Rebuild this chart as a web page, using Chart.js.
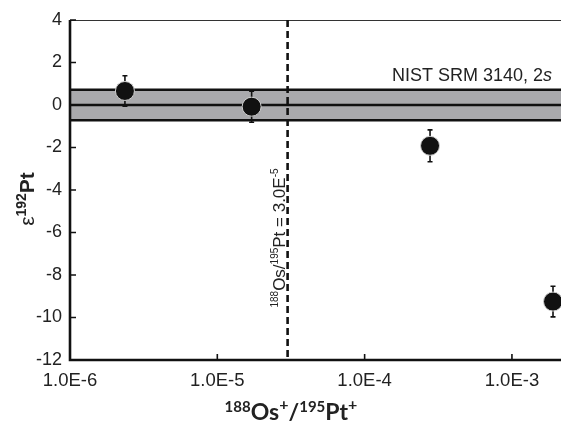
<!DOCTYPE html>
<html>
<head>
<meta charset="utf-8">
<script src="https://cdn.jsdelivr.net/npm/chart.js@4.4.0/dist/chart.umd.min.js"></script>
<style>
html,body{margin:0;padding:0;background:#fff;overflow:hidden;}
#wrap{width:561px;height:423px;position:relative;}
</style>
</head>
<body>
<div id="wrap"><canvas id="c" width="561" height="423"></canvas></div>
<script>
// ---- data ----
const ratioOsPt = [2.36e-6, 1.71e-5, 2.78e-4, 1.90e-3];   // 188Os+/195Pt+
const eps192Pt  = [0.66, -0.08, -1.92, -9.25];             // ε192Pt
const err2s     = [0.72, 0.73, 0.75, 0.72];                // error bars
const nistMean  = 0;                                       // NIST SRM 3140 mean
const nist2s    = 0.72;                                    // NIST SRM 3140 2s
const thresholdRatio = 3.0e-5;                             // dashed line
const xTickValues = [1e-6, 1e-5, 1e-4, 1e-3];
const xTickLabels = ['1.0E-6', '1.0E-5', '1.0E-4', '1.0E-3'];
const yTickValues = [4, 2, 0, -2, -4, -6, -8, -10, -12];
const xMin = 1e-6, xMax = 0.002153, yMin = -12, yMax = 4;

const TXT = '#222';
const SANS = '"Liberation Sans", Arial, sans-serif';

function richWidth(ctx, parts){
  let w = 0;
  for (const p of parts){ ctx.font = p.font; w += ctx.measureText(p.t).width; }
  return w;
}
function drawRich(ctx, parts, x, y){
  let cx = x;
  for (const p of parts){
    ctx.font = p.font;
    ctx.fillText(p.t, cx, y + (p.dy || 0));
    cx += ctx.measureText(p.t).width;
  }
}

const deco = {
  id: 'deco',
  beforeDatasetsDraw(chart){
    const {ctx, chartArea: a, scales: {x, y}} = chart;
    ctx.save();
    // NIST band
    const yt = y.getPixelForValue(nistMean + nist2s);
    const yb = y.getPixelForValue(nistMean - nist2s);
    const y0 = y.getPixelForValue(nistMean);
    ctx.fillStyle = '#aaaaad';
    ctx.fillRect(a.left, yt, a.right - a.left, yb - yt);
    ctx.strokeStyle = '#111';
    ctx.lineWidth = 2.4;
    for (const yy of [yt, y0, yb]){
      ctx.beginPath(); ctx.moveTo(a.left, yy); ctx.lineTo(a.right, yy); ctx.stroke();
    }
    // top border
    ctx.strokeStyle = '#333';
    ctx.lineWidth = 1;
    ctx.beginPath(); ctx.moveTo(a.left, a.top + 0.5); ctx.lineTo(a.right, a.top + 0.5); ctx.stroke();
    // dashed threshold
    const xd = x.getPixelForValue(thresholdRatio);
    ctx.strokeStyle = '#111';
    ctx.lineWidth = 2.6;
    ctx.setLineDash([7, 4]);
    ctx.beginPath(); ctx.moveTo(xd, a.top); ctx.lineTo(xd, a.bottom); ctx.stroke();
    ctx.setLineDash([]);
    // error bars
    ctx.strokeStyle = '#111';
    ctx.lineWidth = 1.6;
    for (let i = 0; i < ratioOsPt.length; i++){
      const px = x.getPixelForValue(ratioOsPt[i]);
      const p1 = y.getPixelForValue(eps192Pt[i] + err2s[i]);
      const p2 = y.getPixelForValue(eps192Pt[i] - err2s[i]);
      ctx.beginPath();
      ctx.moveTo(px, p1); ctx.lineTo(px, p2);
      ctx.moveTo(px - 2.5, p1); ctx.lineTo(px + 2.5, p1);
      ctx.moveTo(px - 2.5, p2); ctx.lineTo(px + 2.5, p2);
      ctx.stroke();
    }
    ctx.restore();
  },
  afterDraw(chart){
    const {ctx, chartArea: a, scales: {x, y}} = chart;
    ctx.save();
    // axes
    ctx.strokeStyle = '#111';
    ctx.lineWidth = 2.6;
    ctx.beginPath();
    ctx.moveTo(a.left, a.top); ctx.lineTo(a.left, a.bottom); ctx.lineTo(a.right, a.bottom);
    ctx.stroke();
    // inward ticks
    ctx.lineWidth = 1.6;
    ctx.beginPath();
    for (const v of yTickValues){
      const py = y.getPixelForValue(v);
      ctx.moveTo(a.left, py); ctx.lineTo(a.left + 6, py);
    }
    for (const v of xTickValues){
      const px = x.getPixelForValue(v);
      ctx.moveTo(px, a.bottom); ctx.lineTo(px, a.bottom - 6);
    }
    ctx.stroke();

    ctx.fillStyle = TXT;
    ctx.textBaseline = 'alphabetic';
    // NIST label
    const nist = [
      {t: 'NIST SRM 3140, 2', font: '18px ' + SANS},
      {t: 's', font: 'italic 18px ' + SANS}
    ];
    const nw = richWidth(ctx, nist);
    drawRich(ctx, nist, 552 - nw, 81);

    // rotated threshold label
    const thr = [
      {t: '188', font: '10px ' + SANS, dy: -7},
      {t: 'Os/', font: '17px ' + SANS},
      {t: '195', font: '10px ' + SANS, dy: -7},
      {t: 'Pt = 3.0E', font: '17px ' + SANS},
      {t: '-5', font: '10px ' + SANS, dy: -7}
    ];
    const tw = richWidth(ctx, thr);
    ctx.save();
    ctx.translate(x.getPixelForValue(thresholdRatio) - 3, 238);
    ctx.rotate(-Math.PI / 2);
    drawRich(ctx, thr, -tw / 2, 0);
    ctx.restore();

    // y title
    const yt = [
      {t: 'ε', font: '21px ' + SANS},
      {t: '192', font: 'bold 14px ' + SANS, dy: -8},
      {t: 'Pt', font: 'bold 21px ' + SANS}
    ];
    const yw = richWidth(ctx, yt);
    ctx.save();
    ctx.translate(34, 199);
    ctx.rotate(-Math.PI / 2);
    drawRich(ctx, yt, -yw / 2, 0);
    ctx.restore();

    // x title
    const xt = [
      {t: '188', font: 'bold 15px Lato, ' + SANS, dy: -8},
      {t: 'Os', font: 'bold 23px Lato, ' + SANS},
      {t: '+', font: 'bold 16px Lato, ' + SANS, dy: -10},
      {t: '/', font: 'bold 23px Lato, ' + SANS},
      {t: '195', font: 'bold 15px Lato, ' + SANS, dy: -8},
      {t: 'Pt', font: 'bold 23px Lato, ' + SANS},
      {t: '+', font: 'bold 16px Lato, ' + SANS, dy: -10}
    ];
    const xw = richWidth(ctx, xt);
    drawRich(ctx, xt, 291 - xw / 2, 420);
    ctx.restore();
  }
};

new Chart(document.getElementById('c'), {
  type: 'scatter',
  data: {
    datasets: [{
      data: ratioOsPt.map((v, i) => ({x: v, y: eps192Pt[i]})),
      pointRadius: 9.5,
      pointHoverRadius: 9.5,
      backgroundColor: '#111',
      borderColor: '#cfcfcf',
      borderWidth: 1,
      clip: false
    }]
  },
  options: {
    responsive: false,
    animation: false,
    events: [],
    layout: {autoPadding: false, padding: {left: 0, right: 0, top: 20, bottom: 0}},
    plugins: {legend: {display: false}, tooltip: {enabled: false}},
    scales: {
      x: {
        type: 'logarithmic',
        min: xMin, max: xMax,
        afterBuildTicks(s){ s.ticks = xTickValues.map(v => ({value: v})); },
        afterFit(s){ s.height = 63; s.paddingLeft = 0; s.paddingRight = 0; },
        grid: {display: false, drawTicks: false},
        border: {display: false},
        ticks: {
          autoSkip: false, maxRotation: 0, padding: 10,
          color: TXT, font: {family: SANS, size: 18.5},
          callback: (v, i) => xTickLabels[i]
        }
      },
      y: {
        min: yMin, max: yMax,
        afterBuildTicks(s){ s.ticks = yTickValues.map(v => ({value: v})); },
        afterFit(s){ s.width = 70; s.paddingTop = 0; s.paddingBottom = 0; },
        grid: {display: false, drawTicks: false},
        border: {display: false},
        ticks: {
          padding: 8, color: TXT, font: {family: SANS, size: 18},
          callback: v => String(v)
        }
      }
    }
  },
  plugins: [deco]
});
</script>
</body>
</html>
